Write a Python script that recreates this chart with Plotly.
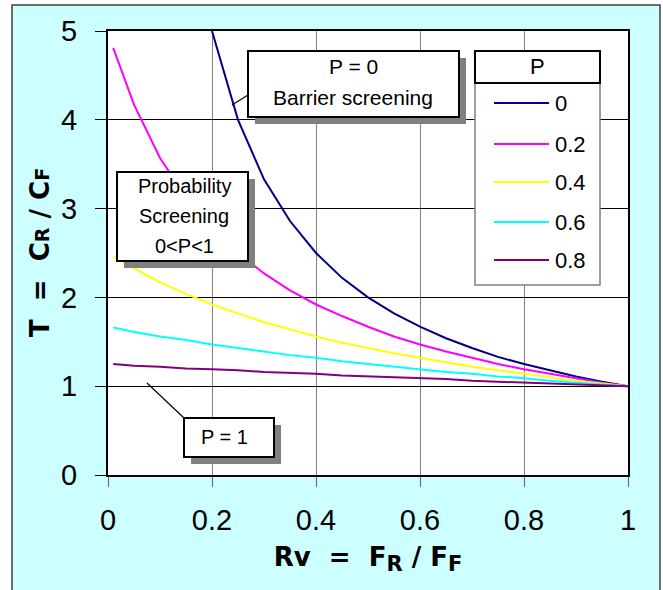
import plotly.graph_objects as go

# ---------------- data ----------------
rv = [0.01, 0.05, 0.1, 0.15, 0.2, 0.25, 0.3, 0.35, 0.4, 0.45, 0.5,
      0.55, 0.6, 0.65, 0.7, 0.75, 0.8, 0.85, 0.9, 0.95, 1.0]

t_p0 = [None, None, None, None, 5.0, 4.0, 3.33, 2.86, 2.5, 2.22, 2.0,
        1.82, 1.67, 1.54, 1.43, 1.33, 1.25, 1.18, 1.11, 1.05, 1.0]
t_p02 = [4.81, 4.17, 3.57, 3.13, 2.78, 2.5, 2.27, 2.08, 1.92, 1.79, 1.67,
         1.56, 1.47, 1.39, 1.32, 1.25, 1.19, 1.14, 1.09, 1.04, 1.0]
t_p04 = [2.46, 2.33, 2.17, 2.04, 1.92, 1.82, 1.72, 1.64, 1.56, 1.49, 1.43,
         1.37, 1.32, 1.27, 1.22, 1.18, 1.14, 1.10, 1.06, 1.03, 1.0]
t_p06 = [1.66, 1.61, 1.56, 1.52, 1.47, 1.43, 1.39, 1.35, 1.32, 1.28, 1.25,
         1.22, 1.19, 1.16, 1.14, 1.11, 1.09, 1.06, 1.04, 1.02, 1.0]
t_p08 = [1.25, 1.23, 1.22, 1.20, 1.19, 1.18, 1.16, 1.15, 1.14, 1.12, 1.11,
         1.10, 1.09, 1.08, 1.06, 1.05, 1.04, 1.03, 1.02, 1.01, 1.0]

series_names = ["0", "0.2", "0.4", "0.6", "0.8"]
series_values = [t_p0, t_p02, t_p04, t_p06, t_p08]
series_colors = ["#000080", "#FF00FF", "#FFFF00", "#00FFFF", "#800080"]

x_ticks = [0, 0.2, 0.4, 0.6, 0.8, 1]
x_tick_text = ["0", "0.2", "0.4", "0.6", "0.8", "1"]
y_ticks = [0, 1, 2, 3, 4, 5]

# ---------------- layout geometry (pixels) ----------------
W, H = 663, 590
L, R, T, B = 108, 628, 31, 475
PW, PH = R - L, B - T


def px(x):
    return (x - L) / PW


def py(y):
    return (B - y) / PH


FONT = "Arial, Liberation Sans, sans-serif"
TFONT = "DejaVu Sans, Verdana, sans-serif"

fig = go.Figure()
for name, vals, col in zip(series_names, series_values, series_colors):
    fig.add_trace(go.Scatter(x=rv, y=vals, mode="lines", name=name,
                             line=dict(color=col, width=2),
                             connectgaps=False, showlegend=False))

shapes = []
annotations = []

# outer cyan frame and white plot area
shapes.append(dict(type="rect", xref="paper", yref="paper", layer="below",
                   x0=px(12), x1=px(660), y0=py(640), y1=py(5),
                   fillcolor="#CCFFFF", line=dict(color="#404040", width=1.5)))
shapes.append(dict(type="rect", xref="paper", yref="paper", layer="below",
                   x0=0, x1=1, y0=0, y1=1, fillcolor="white",
                   line=dict(width=0)))


def callout(x0, y0, x1, y1, shadow=7, lw=2, border="black"):
    if shadow:
        shapes.append(dict(type="rect", xref="paper", yref="paper", layer="above",
                           x0=px(x0 + shadow), x1=px(x1 + shadow),
                           y0=py(y1 + shadow), y1=py(y0 + shadow),
                           fillcolor="#808080", line=dict(width=0)))
    shapes.append(dict(type="rect", xref="paper", yref="paper", layer="above",
                       x0=px(x0), x1=px(x1), y0=py(y1), y1=py(y0),
                       fillcolor="white", line=dict(color=border, width=lw)))


def leader(xa, ya, xb, yb):
    shapes.append(dict(type="line", xref="paper", yref="paper", layer="above",
                       x0=px(xa), y0=py(ya), x1=px(xb), y1=py(yb),
                       line=dict(color="black", width=1.2)))


def text(x, y, s, size=21):
    annotations.append(dict(xref="paper", yref="paper", x=px(x), y=py(y),
                            text=s, showarrow=False, xanchor="center",
                            yanchor="middle",
                            font=dict(family=FONT, size=size, color="black")))


# P = 0 callout
leader(248, 95, 232, 105)
callout(248, 51, 459, 117)
text(353, 67, "P = 0")
text(353, 97, "Barrier screening")

# Probability screening callout
callout(117, 172, 248, 261)
text(184, 186, "Probability", 20)
text(184, 216, "Screening", 20)
text(184, 246, "0&lt;P&lt;1", 20)

# P = 1 callout
leader(184, 418, 147, 383)
callout(184, 418, 274, 457)
text(224, 437, "P = 1", 20)

# Legend (manual)
callout(475, 83, 600, 285, shadow=0, lw=1.5, border="#808080")
callout(475, 51, 600, 83, shadow=0, lw=2, border="black")
text(537, 67, "P", 22)
item_y = [103, 144, 182, 222, 260]
for name, col, yy in zip(series_names, series_colors, item_y):
    shapes.append(dict(type="line", xref="paper", yref="paper", layer="above",
                       x0=px(494), x1=px(549), y0=py(yy), y1=py(yy),
                       line=dict(color=col, width=2)))
    annotations.append(dict(xref="paper", yref="paper", x=px(553), y=py(yy),
                            text=name, showarrow=False, xanchor="left",
                            yanchor="middle",
                            font=dict(family=FONT, size=22, color="black")))

# y-axis title (rotated annotation for exact placement)
annotations.append(dict(
    xref="paper", yref="paper", x=px(40), y=py(253),
    text="<b>T  =  C<span style='font-size:19px'>R</span> / C<span style='font-size:19px'>F</span></b>",
    textangle=-90, showarrow=False, xanchor="center", yanchor="middle",
    font=dict(family=TFONT, size=26, color="black")))

fig.update_layout(
    width=W, height=H,
    margin=dict(l=L, r=W - R, t=T, b=H - B, pad=0),
    paper_bgcolor="white", plot_bgcolor="white",
    showlegend=False,
    shapes=shapes, annotations=annotations,
    font=dict(family=FONT, color="black"),
)

fig.update_xaxes(
    range=[0, 1], tickvals=x_ticks, ticktext=x_tick_text,
    showgrid=True, gridcolor="#808080", gridwidth=1,
    showline=True, linecolor="black", linewidth=2, mirror=True,
    ticks="outside", ticklen=10, tickcolor="#606060", tickwidth=1,
    ticklabelstandoff=8,
    tickfont=dict(family=FONT, size=29, color="black"),
    zeroline=False,
    title=dict(text="<b>Rv  =  F<sub><span style='font-size:21px'>R</span></sub> / F<sub><span style='font-size:21px'>F</span></sub></b>",
               font=dict(family=TFONT, size=26, color="black"),
               standoff=13),
)
fig.update_yaxes(
    range=[0, 5], tickvals=y_ticks,
    showgrid=True, gridcolor="black", gridwidth=1,
    showline=True, linecolor="black", linewidth=2, mirror=True,
    ticks="outside", ticklen=11, tickcolor="black", tickwidth=1,
    ticklabelstandoff=12,
    tickfont=dict(family=FONT, size=29, color="black"),
    zeroline=False,
)

fig.write_html("out.html",
               config={"displayModeBar": False},
               post_script="document.body.style.margin='0px';document.body.style.overflow='hidden';")
